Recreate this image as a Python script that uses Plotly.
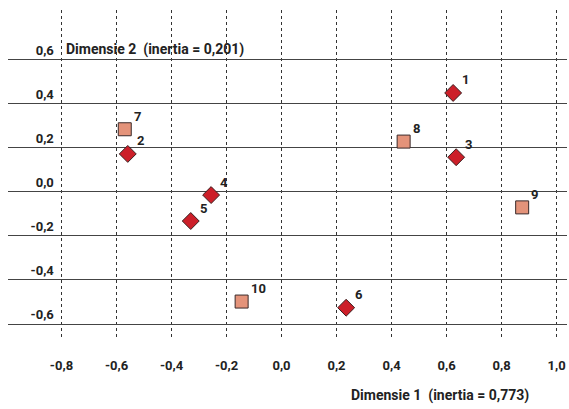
import plotly.graph_objects as go

# Rows (diamonds) and columns (squares) of the correspondence analysis
row_labels = ["1", "2", "3", "4", "5", "6"]
row_dim1 = [0.624, -0.559, 0.635, -0.256, -0.330, 0.235]
row_dim2 = [0.450, 0.173, 0.158, -0.014, -0.132, -0.526]

col_labels = ["7", "8", "9", "10"]
col_dim1 = [-0.570, 0.444, 0.875, -0.145]
col_dim2 = [0.285, 0.229, -0.070, -0.498]

x_tickvals = [-0.8, -0.6, -0.4, -0.2, 0.0, 0.2, 0.4, 0.6, 0.8, 1.0]
x_ticktext = ["-0,8", "-0,6", "-0,4", "-0,2", "0,0", "0,2", "0,4", "0,6", "0,8", "1,0"]
y_tickvals = [0.6, 0.4, 0.2, 0.0, -0.2, -0.4, -0.6]
y_ticktext = ["0,6", "0,4", "0,2", "0,0", "-0,2", "-0,4", "-0,6"]

title_dim1 = "Dimensie 1\u00a0 (inertia = 0,773)"
title_dim2 = "Dimensie 2\u00a0 (inertia = 0,201)"

FONT = "Roboto, Liberation Sans Narrow, sans-serif"
TXT = "#222222"

fig = go.Figure()
fig.add_trace(go.Scatter(
    x=row_dim1, y=row_dim2, mode="markers",
    marker=dict(symbol="diamond", size=13, color="#cc1f29",
                line=dict(color="#3a2020", width=1)),
    hoverinfo="skip", showlegend=False))
fig.add_trace(go.Scatter(
    x=col_dim1, y=col_dim2, mode="markers",
    marker=dict(symbol="square", size=13, color="#e4937a",
                line=dict(color="#3a2a2a", width=1)),
    hoverinfo="skip", showlegend=False))

annotations = []
for lab, xv, yv in zip(row_labels + col_labels, row_dim1 + col_dim1, row_dim2 + col_dim2):
    annotations.append(dict(x=xv, y=yv, xref="x", yref="y", text=lab, showarrow=False,
                            xanchor="left", yanchor="middle", xshift=7, yshift=13,
                            font=dict(family=FONT, size=13, color=TXT, weight="bold")))
annotations.append(dict(x=0.1002, y=0.8788, xref="paper", yref="paper", text=title_dim2,
                        showarrow=False, xanchor="left", yanchor="middle",
                        font=dict(family=FONT, size=14, color=TXT, weight="bold")))
annotations.append(dict(x=0.7728, y=-0.1667, xref="paper", yref="paper", text=title_dim1,
                        showarrow=False, xanchor="center", yanchor="middle",
                        font=dict(family=FONT, size=14, color=TXT, weight="bold")))

fig.update_layout(
    width=569, height=409,
    margin=dict(l=8, r=2, t=10, b=69),
    paper_bgcolor="white", plot_bgcolor="white",
    separators=",.",
    annotations=annotations,
    xaxis=dict(range=[-0.9945, 1.038], tickvals=x_tickvals, ticktext=x_ticktext,
               showgrid=True, gridcolor="#333333", gridwidth=1, griddash="3px,3px",
               zeroline=False, showline=False, ticks="", ticklabelstandoff=16,
               automargin=False,
               tickfont=dict(family=FONT, size=13, color=TXT, weight="bold")),
    yaxis=dict(range=[-0.6727, 0.827], tickvals=y_tickvals, ticktext=y_ticktext,
               showgrid=True, gridcolor="#444444", gridwidth=1.3,
               zeroline=False, showline=False, ticks="",
               anchor="free", position=0.082, ticklabelshift=-10,
               automargin=False,
               tickfont=dict(family=FONT, size=13, color=TXT, weight="bold")),
)

fig.write_html(
    "out.html",
    config={"displayModeBar": False},
    post_script="document.body.style.margin='0';document.body.style.overflow='hidden';",
)
